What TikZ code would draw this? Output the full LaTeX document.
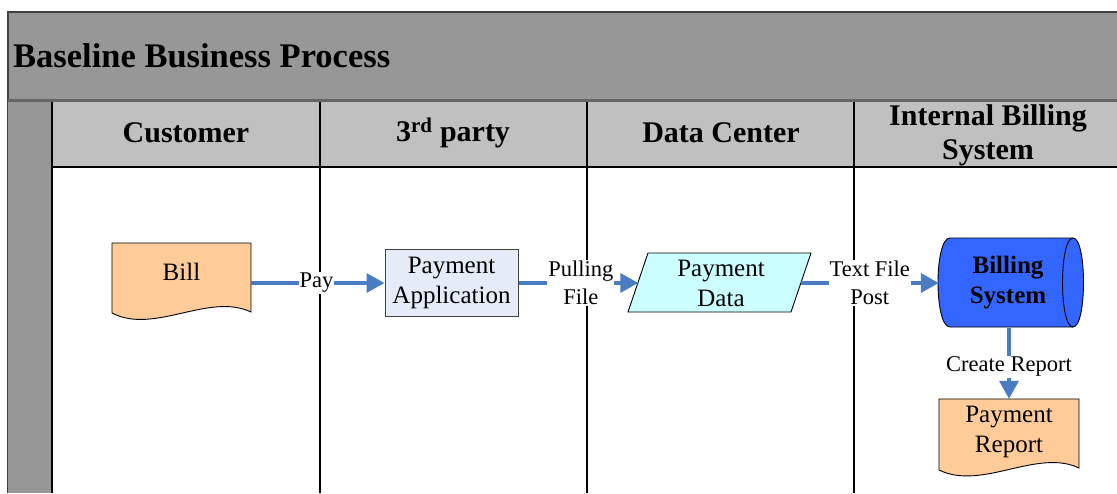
\documentclass[tikz,border=0pt]{standalone}
\usepackage{fontspec}
\setmainfont{Liberation Serif}
\usetikzlibrary{arrows.meta,calc}
\definecolor{bandgray}{HTML}{979797}
\definecolor{headgray}{HTML}{C0C0C0}
\definecolor{docfill}{HTML}{FFCC99}
\definecolor{appfill}{HTML}{E5ECF7}
\definecolor{datafill}{HTML}{CCFFFF}
\definecolor{sysfill}{HTML}{3366FF}
\definecolor{flow}{HTML}{4A7CC4}
\definecolor{darkline}{HTML}{404040}
\tikzset{
  lanetitle/.style={font=\fontsize{30}{34}\selectfont\bfseries, align=center},
  shapeline/.style={draw=black, line width=0.9pt},
  boxtext/.style={font=\fontsize{25}{30}\selectfont, align=center, inner sep=0pt},
  holder/.style={draw=none, inner sep=0pt},
  flowarrow/.style={draw=flow, line width=3.5pt, -{Triangle[length=18pt,width=19pt]}},
  flowlabel/.style={font=\fontsize{22.5}{28}\selectfont, align=center, fill=white, inner sep=1pt},
  laneline/.style={draw=black, line width=1.3pt}
}
\begin{document}
\begin{tikzpicture}[x=1pt,y=-1pt]
\useasboundingbox (0,0) rectangle (1117,493);
% title band
\fill[bandgray] (8,12) rectangle (1117,100);
\draw[darkline, line width=1.5pt] (8,493) -- (8,12) -- (1117,12);
\draw[darkline!80, line width=3pt] (8,100) -- (1117,100);
\node[font=\fontsize{34.5}{36}\selectfont\bfseries, anchor=west, inner sep=0pt] (title) at (13,56) {Baseline Business Process};
% left strip
\fill[bandgray] (8,101.5) rectangle (52,493);
% header row
\fill[headgray] (52,101.5) rectangle (1117,167);
\draw[laneline] (52,101.5) -- (52,493);
\draw[laneline] (52,167) -- (1117,167);
\draw[laneline] (320,101.5) -- (320,493);
\draw[laneline] (587,101.5) -- (587,493);
\draw[laneline] (854,101.5) -- (854,493);
\node[lanetitle] (h1) at (186,133) {Customer};
\node[lanetitle] (h2) at (453,133) {3\textsuperscript{rd} party};
\node[lanetitle] (h3) at (721,133) {Data Center};
\node[lanetitle] (h4) at (988,135) {Internal Billing\\System};
% Bill document
\draw[shapeline, fill=docfill] (112,243) -- (251,243) -- (251,312)
  .. controls (209,292) and (154,335) .. (112,313) -- cycle;
\node[holder, minimum width=139pt, minimum height=80pt] (bill) at (181.5,283) {};
\node[boxtext] (billtext) at (181.5,272) {Bill};
% Payment Application
\node[draw=darkline, line width=1pt, fill=appfill, minimum width=133pt, minimum height=67pt, boxtext] (app) at (451.5,283) {\rule{0pt}{0pt}\raisebox{-2pt}{}Payment\\Application};
% Payment Data parallelogram
\draw[shapeline, fill=datafill] (648,253) -- (811,253) -- (791,312) -- (628,312) -- cycle;
\node[holder, minimum width=162pt, minimum height=59pt] (pdata) at (719.5,283) {};
\node[boxtext] (pdatatext) at (721,283) {Payment\\Data};
% Billing System cylinder
\draw[shapeline, fill=sysfill] (950,238) -- (1073,238)
  .. controls (1087,238) and (1087,327) .. (1073,327) -- (950,327)
  .. controls (934,327) and (934,238) .. (950,238) -- cycle;
\draw[shapeline] (1073,238) .. controls (1059,238) and (1059,327) .. (1073,327);
\node[holder, minimum width=146pt, minimum height=89pt] (bsys) at (1012,283) {};
\node[boxtext, font=\fontsize{25}{30}\selectfont\bfseries] (bsystext) at (1008,283) {Billing\\System};
% Payment Report document
\draw[shapeline, fill=docfill] (939,399) -- (1079,399) -- (1079,468)
  .. controls (1037,448) and (982,491) .. (939,470) -- cycle;
\node[holder, minimum width=140pt, minimum height=79pt] (prep) at (1009,438.5) {};
\node[boxtext] (preptext) at (1009,431.5) {Payment\\Report};
% connectors
\draw[flowarrow] (bill.east) -- node[flowlabel, pos=0.49] (lpay) {Pay} (app.west);
\draw[flowarrow] (app.east) -- node[flowlabel, pos=0.52] (lpull) {Pulling\\File} (pdata.west);
\draw[flowarrow] (pdata.east) -- node[flowlabel, pos=0.5] (ltext) {Text File\\Post} (bsys.west);
\draw[flowarrow] (prep.north |- bsys.south) -- node[flowlabel, pos=0.55] (lrep) {Create Report} (prep.north);
\end{tikzpicture}
\end{document}
